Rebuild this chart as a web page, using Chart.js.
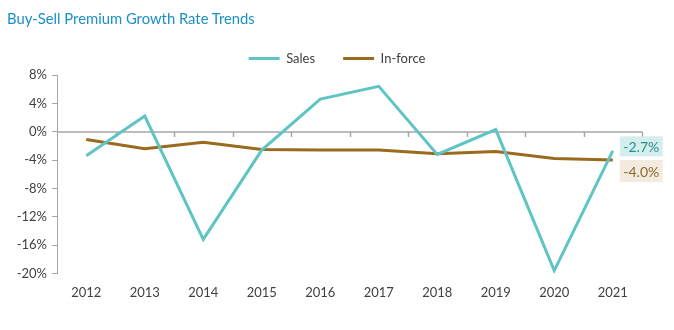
<!DOCTYPE html>
<html>
<head>
<meta charset="utf-8">
<script src="https://cdn.jsdelivr.net/npm/chart.js@4/dist/chart.umd.min.js"></script>
<style>
    html, body { margin: 0; padding: 0; background: #fff; }
    #wrap { position: relative; width: 674px; height: 330px; }
    #title {
        position: absolute; left: 7px; top: 9px;
        font-family: Lato, sans-serif; font-size: 14.8px;
        color: #1a8fc8; white-space: nowrap;
    }
</style>
</head>
<body>
<div id="wrap">
    <canvas id="premium-chart" width="674" height="330"></canvas>
    <div id="title">Buy-Sell Premium Growth Rate Trends</div>
</div>
<script>
const years = ['2012', '2013', '2014', '2015', '2016', '2017', '2018', '2019', '2020', '2021'];
const salesGrowth = [-3.4, 2.2, -15.2, -2.6, 4.6, 6.4, -3.2, 0.3, -19.6, -2.7];
const inforceGrowth = [-1.1, -2.4, -1.5, -2.5, -2.6, -2.6, -3.1, -2.8, -3.8, -4.0];
const yTicks = [8, 4, 0, -4, -8, -12, -16, -20];

const SALES_COLOR = '#5fc5c4';
const INFORCE_COLOR = '#9a6a1e';
const AXIS_COLOR = '#a6a6a6';
const RIGHT_PAD = 32;

// Подписи последних значений справа от линий
const endLabels = {
    id: 'endLabels',
    afterDatasetsDraw(chart) {
        const { ctx, scales } = chart;
        const last = years.length - 1;
        const x = scales.x.getPixelForValue(last) + 7;
        const items = [
            { value: salesGrowth[last], bg: '#d4eeee', fg: '#2b8d8e', shift: -14.5, h: 20 },
            { value: inforceGrowth[last], bg: '#f3ebdf', fg: '#8c6a2a', shift: 0, h: 22 }
        ];
        ctx.save();
        ctx.font = '14px Lato, sans-serif';
        ctx.textAlign = 'center';
        ctx.textBaseline = 'middle';
        items.forEach(item => {
            const top = scales.y.getPixelForValue(item.value) + item.shift;
            ctx.fillStyle = item.bg;
            ctx.fillRect(x, top, 43, item.h);
            ctx.fillStyle = item.fg;
            ctx.fillText(item.value.toFixed(1) + '%', x + 21.5, top + item.h / 2 + 1);
        });
        ctx.restore();
    }
};

// Нулевая линия с засечками между годами
const zeroLine = {
    id: 'zeroLine',
    beforeDatasetsDraw(chart) {
        const { ctx, scales, chartArea } = chart;
        const y0 = Math.round(scales.y.getPixelForValue(0));
        ctx.save();
        ctx.strokeStyle = AXIS_COLOR;
        ctx.lineWidth = 1.5;
        ctx.beginPath();
        ctx.moveTo(chartArea.left, y0);
        ctx.lineTo(chartArea.right, y0);
        for (let i = 1; i <= years.length; i++) {
            const x = Math.round(scales.x.getPixelForValue(i - 0.5)) + 0.5;
            ctx.moveTo(x, y0);
            ctx.lineTo(x, y0 + 5);
        }
        ctx.stroke();
        ctx.restore();
    }
};

// Легенда центрируется по всему холсту, а не по области без правого поля
const legendCenter = {
    id: 'legendCenter',
    afterLayout(chart) {
        const shift = RIGHT_PAD / 2;
        chart.legend.left += shift;
        chart.legend.right += shift;
    }
};

const ctx = document.getElementById('premium-chart').getContext('2d');

new Chart(ctx, {
    type: 'line',
    data: {
        labels: years,
        datasets: [{
            label: 'Sales',
            data: salesGrowth,
            borderColor: SALES_COLOR,
            backgroundColor: SALES_COLOR,
            borderWidth: 3,
            pointRadius: 0,
            tension: 0
        }, {
            label: 'In-force',
            data: inforceGrowth,
            borderColor: INFORCE_COLOR,
            backgroundColor: INFORCE_COLOR,
            borderWidth: 3,
            pointRadius: 0,
            tension: 0
        }]
    },
    options: {
        responsive: false,
        animation: false,
        layout: {
            padding: { top: 24, right: RIGHT_PAD, bottom: 17, left: 0 }
        },
        plugins: {
            legend: {
                display: true,
                position: 'top',
                labels: {
                    usePointStyle: true,
                    pointStyle: 'line',
                    pointStyleWidth: 31,
                    padding: 28,
                    color: '#404040',
                    font: { family: 'Lato, sans-serif', size: 13 }
                }
            },
            tooltip: { enabled: false }
        },
        scales: {
            x: {
                type: 'category',
                position: 'bottom',
                offset: true,
                border: { display: false },
                grid: { display: false, drawTicks: false },
                ticks: {
                    padding: 12,
                    color: '#404040',
                    font: { family: 'Lato, sans-serif', size: 13 }
                }
            },
            y: {
                type: 'linear',
                min: -20,
                max: 8,
                afterFit(scale) { scale.width = 57; },
                afterBuildTicks(scale) {
                    scale.ticks = yTicks.map(v => ({ value: v }));
                },
                border: { display: true, color: AXIS_COLOR, width: 1 },
                grid: {
                    drawOnChartArea: false,
                    tickLength: 5,
                    color: AXIS_COLOR
                },
                ticks: {
                    padding: 5,
                    color: '#404040',
                    font: { family: 'Lato, sans-serif', size: 13 },
                    callback: v => v + '%'
                }
            }
        }
    },
    plugins: [endLabels, zeroLine, legendCenter]
});
</script>
</body>
</html>
